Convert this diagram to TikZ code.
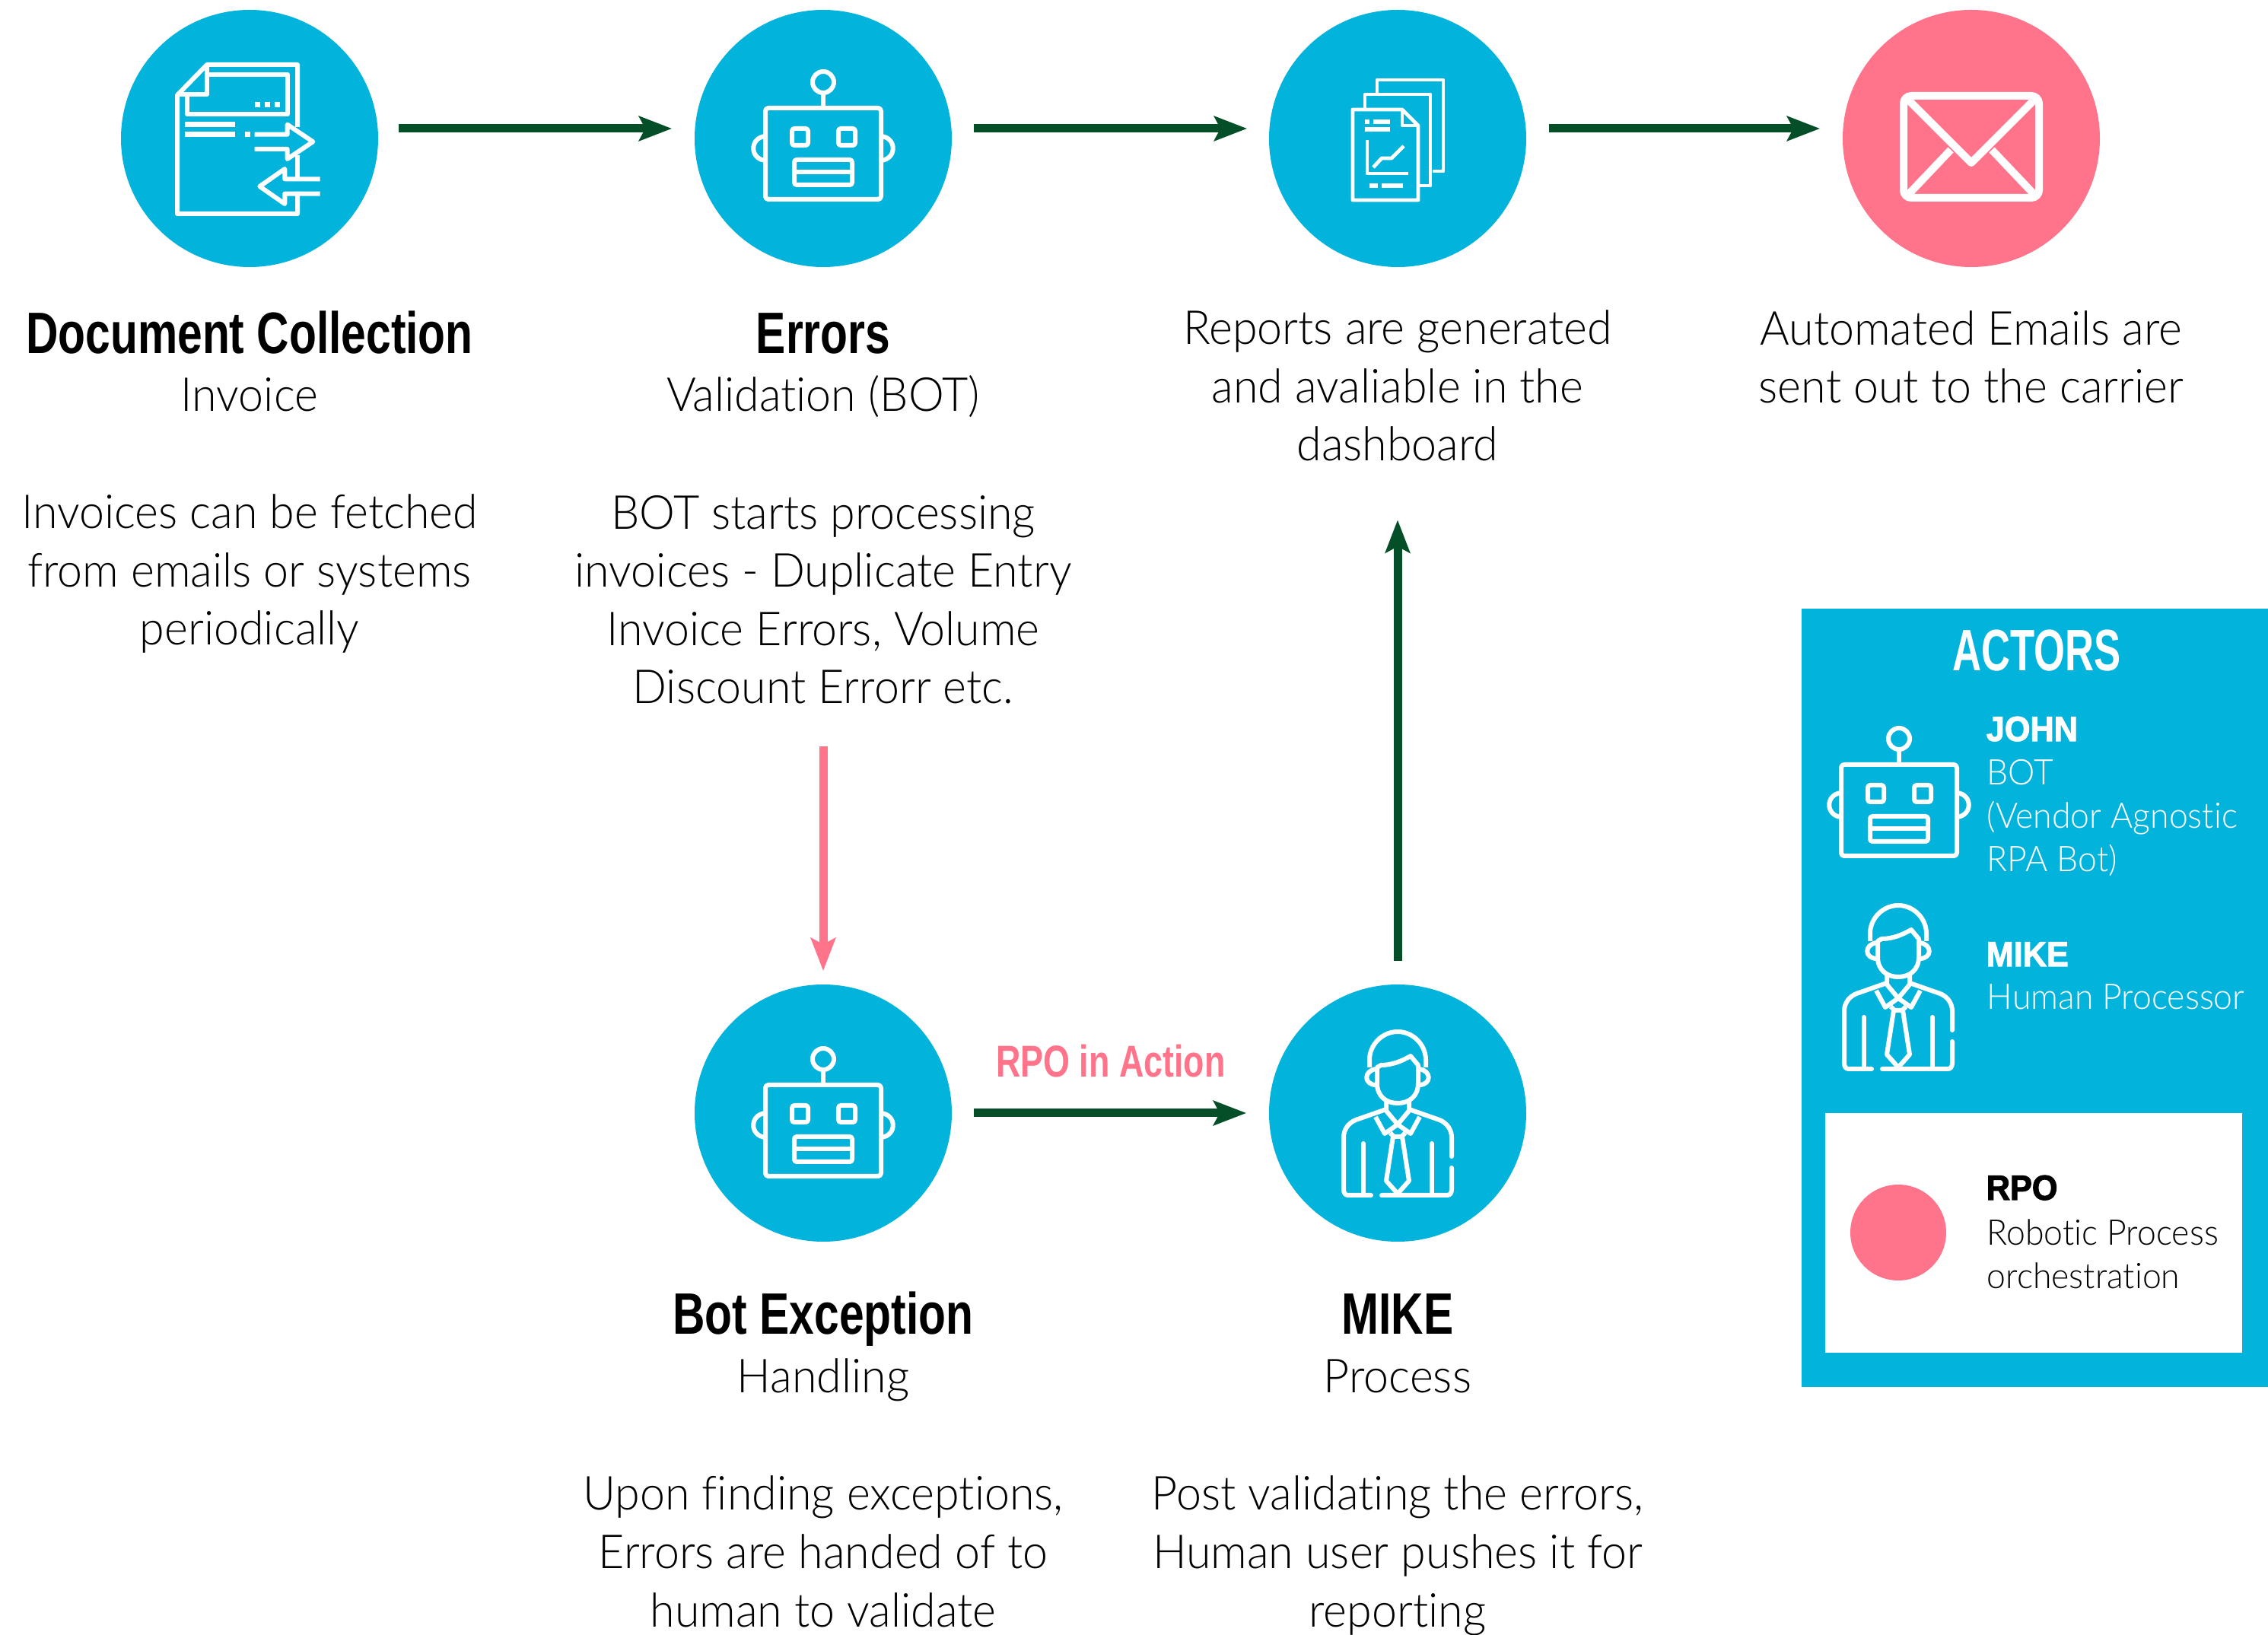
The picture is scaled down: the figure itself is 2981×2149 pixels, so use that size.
\documentclass[tikz,border=0pt]{standalone}
\usepackage{fontspec}
\usetikzlibrary{arrows.meta}
\setmainfont{Lato Light}[FakeStretch=0.96,Ligatures=NoCommon]
\newfontfamily\titlefont{Liberation Sans Bold}[FakeStretch=0.765]
\newfontfamily\actorsfont{Liberation Sans Bold}[FakeStretch=0.685]
\newfontfamily\namefont{Liberation Sans Bold}[FakeBold=2.2,FakeStretch=0.94]
\definecolor{actorblue}{HTML}{02B3DC}
\definecolor{rpopink}{HTML}{FF748B}
\definecolor{flowgreen}{HTML}{044F27}
\tikzset{
	stepcircle/.style={circle, fill=actorblue, minimum size=84.5pt, inner sep=0pt},
	titletext/.style={anchor=base, inner sep=0pt, font=\titlefont\fontsize{19.2pt}{23pt}\selectfont},
	bodytext/.style={anchor=base, inner sep=0pt, align=center, font=\fontsize{15.4pt}{19.15pt}\selectfont},
	paneltext/.style={anchor=base west, inner sep=0pt, align=left, text=white, font=\fontsize{11.6pt}{14.3pt}\selectfont},
	nametext/.style={anchor=base west, inner sep=0pt, text=white, font=\namefont\fontsize{11.5pt}{14pt}\selectfont},
	flow/.style={line width=2.75pt, flowgreen, -{Stealth[length=10.75pt, width=8pt, inset=2pt]}},
	iconline/.style={draw=white, line width=1.5pt, line join=round},
	roboticon/.pic={
		\draw[iconline] (0,-74) circle[radius=14];
		\draw[iconline] (0,-60) -- (0,-40);
		\draw[iconline, rounded corners=1pt] (-76,-40) rectangle (76,80);
		\draw[iconline, rounded corners=.8pt] (-41,-13) rectangle (-20,9);
		\draw[iconline, rounded corners=.8pt] (20,-13) rectangle (42,9);
		\draw[iconline, rounded corners=.8pt] (-38,28) rectangle (38,61);
		\draw[iconline] (-38,44) -- (38,44);
		\draw[iconline] (-76,-3) .. controls (-97,-1) and (-97,27) .. (-76,29);
		\draw[iconline] (76,-3) .. controls (97,-1) and (97,27) .. (76,29);
	},
	personicon/.pic={
		\draw[iconline] (-37,-60) -- (-37,-70) .. controls (-37,-90) and (-20,-107) .. (0,-107)
			.. controls (20,-107) and (37,-90) .. (37,-70) -- (37,-60);
		\draw[iconline] (17,-75) .. controls (5,-68) and (-8,-63) .. (-22,-63) -- (-27,-60) -- (-27,-39)
			.. controls (-27,-22) and (-15,-13) .. (0,-13) .. controls (15,-13) and (27,-22) .. (27,-39)
			-- (27,-63) -- cycle;
		\draw[iconline] (-28,-58) .. controls (-45,-56) and (-45,-37) .. (-28,-37);
		\draw[iconline] (28,-58) .. controls (45,-56) and (45,-37) .. (28,-37);
		\draw[iconline] (-15,-17) -- (-15,-3) -- (0,15) -- (-17,27) -- (-29,5);
		\draw[iconline] (15,-17) -- (15,-3) -- (0,15) -- (17,27) -- (29,5);
		\draw[iconline, line cap=round] (-15,-5) -- (-55,9) .. controls (-65,13) and (-71,22) .. (-71,32)
			-- (-71,100) .. controls (-71,105) and (-69,108) .. (-65,108) -- (-35,108);
		\draw[iconline, line cap=round] (15,-5) -- (55,9) .. controls (65,13) and (71,22) .. (71,32) -- (71,57);
		\draw[iconline, line cap=round] (71,72) -- (71,100) .. controls (71,105) and (69,108) .. (65,108) -- (-21,108);
		\draw[iconline, line cap=round] (-45,40) -- (-45,107);
		\draw[iconline, line cap=round] (45,40) -- (45,107);
		\draw[iconline] (-10,26) -- (-5,31) -- (5,31) -- (10,26);
		\draw[iconline] (-6,31) -- (-15,89) -- (0,106) -- (15,89) -- (6,31);
	},
	docicon/.pic={
		\draw[iconline] (63,-15) -- (63,-97) -- (-56,-97) -- (-95,-57) -- (-95,99) -- (63,99) -- (63,70);
		\draw[iconline] (63,22) -- (63,52);
		\draw[iconline] (-56,-97) -- (-56,-58) -- (-95,-58);
		\draw[iconline] (-56,-84) -- (50,-84) -- (50,-32) -- (-82,-32) -- (-82,-58);
		\foreach \dotx in {10,23,36}
			\fill[white] (\dotx-3.5,-47.5) rectangle (\dotx+3.5,-40.5);
		\fill[white] (-85,-22) rectangle (-19,-15);
		\fill[white] (-85,-9) rectangle (-19,-2);
		\fill[white] (-6.5,-9) rectangle (.5,-2);
		\draw[iconline, miter limit=10] (6.7,-5.3) -- (49.7,-5.3) -- (49.7,-18.3) -- (83.3,4.3) -- (49.7,27) -- (49.7,14) -- (6.7,14);
		\draw[iconline] (92.7,53.3) -- (46.3,53.3) -- (46.3,40) -- (13.3,63) -- (46.3,86) -- (46.3,72.7) -- (92.7,72.7);
	},
	reporticon/.pic={
		\draw[iconline, line width=1.2pt] (-27,-60) -- (-27,-77) -- (60,-77) -- (60,43) -- (46,43);
		\draw[iconline, line width=1.2pt] (-43,-38) -- (-43,-58) -- (43,-58) -- (43,62) -- (27,62);
		\draw[iconline, line width=1.2pt] (-59,-38) -- (6,-38) -- (27,-17) -- (27,81) -- (-59,81) -- cycle;
		\draw[iconline, line width=1.2pt] (6,-38) -- (6,-17) -- (27,-17);
		\fill[white] (-43,-25) rectangle (-37,-19);
		\fill[white] (-32.5,-25) rectangle (-10,-19);
		\fill[white] (-43,-15) rectangle (-10,-9);
		\draw[iconline, line width=1.2pt] (-40,2) -- (-40,46) -- (14,46);
		\draw[iconline, line width=1.2pt] (-32,38) -- (-21,26) -- (-8,26) -- (8,10);
		\fill[white] (-37,59) rectangle (-26,65);
		\fill[white] (-21,59) rectangle (7,65);
	},
	mailicon/.pic={
		\draw[iconline, line width=2.5pt, rounded corners=2.5pt] (-89,-56) rectangle (89,78);
		\draw[iconline, line width=2.5pt] (-84,-52) -- (0,32) -- (84,-52);
		\draw[iconline, line width=2.5pt] (-84,75) -- (-27,15);
		\draw[iconline, line width=2.5pt] (84,75) -- (27,15);
	},
}
\begin{document}
\begin{tikzpicture}[x=0.25pt, y=-0.25pt]
	\useasboundingbox (0,0) rectangle (2981,2149);
	% steps
	\node[stepcircle] (doc) at (328,182) {};
	\node[stepcircle] (errors) at (1082,182) {};
	\node[stepcircle] (reports) at (1837,182) {};
	\node[stepcircle, fill=rpopink] (mail) at (2591,182) {};
	\node[stepcircle] (botex) at (1082,1463) {};
	\node[stepcircle] (mike) at (1837,1463) {};
	\pic at (doc) {docicon};
	\pic at (errors) {roboticon};
	\pic at (reports) {reporticon};
	\pic at (mail) {mailicon};
	\pic at (1082,1466) {roboticon};
	\pic at (mike) {personicon};
	% texts
	\node[titletext] (doctitle) at (328,465) {Document Collection};
	\node[bodytext] (docsub) at (328,541) {Invoice};
	\node[bodytext] (docbody) at (328,848) {Invoices can be fetched\\from emails or systems\\periodically};
	\node[titletext] (errtitle) at (1082,465) {Errors};
	\node[bodytext] (errsub) at (1082,541) {Validation (BOT)};
	\node[bodytext] (errbody) at (1082,925) {BOT starts processing\\invoices - Duplicate Entry\\Invoice Errors, Volume\\Discount Errorr etc.};
	\node[bodytext] (repbody) at (1837,606) {Reports are generated\\and avaliable in the\\dashboard};
	\node[bodytext] (mailbody) at (2591,530) {Automated Emails are\\sent out to the carrier};
	\node[titletext] (bottitle) at (1082,1754) {Bot Exception};
	\node[bodytext] (botsub) at (1082,1830) {Handling};
	\node[bodytext] (botbody) at (1082,2138) {Upon finding exceptions,\\Errors are handed of to\\human to validate};
	\node[titletext] (miketitle) at (1837,1754) {MIKE};
	\node[bodytext] (mikesub) at (1837,1830) {Process};
	\node[bodytext] (mikebody) at (1837,2138) {Post validating the errors,\\Human user pushes it for\\reporting};
	\node[titletext, text=rpopink, font=\titlefont\fontsize{14.65pt}{18pt}\selectfont] (rpoaction) at (1460,1416) {RPO in Action};
	% connectors
	\draw[flow] ([shift={(26,-13)}]doc.east) -- ([shift={(-29,-13)}]errors.west);
	\draw[flow] ([shift={(28,-13)}]errors.east) -- ([shift={(-28,-13)}]reports.west);
	\draw[flow] ([shift={(29,-13)}]reports.east) -- ([shift={(-29,-13)}]mail.west);
	\draw[flow] ([shift={(28,0)}]botex.east) -- ([shift={(-29,0)}]mike.west);
	\draw[flow] ([shift={(0,-30)}]mike.north) -- ([shift={(0,76)}]repbody.south);
	\draw[flow, rpopink] ([shift={(0,55)}]errbody.south) -- ([shift={(0,-17)}]botex.north);
	% actors
	\fill[actorblue] (2368,800) rectangle (2981,1823);
	\fill[white] (2399,1463) rectangle (2947,1778);
	\node[titletext, text=white, font=\actorsfont\fontsize{19.2pt}{23pt}\selectfont] (actorstitle) at (2677,882) {ACTORS};
	\pic at (2496,1045) {roboticon};
	\pic at (2495,1297) {personicon};
	\node[nametext] (johnname) at (2610,974) {JOHN};
	\node[paneltext] (johntext) at (2611,1146) {BOT\\(Vendor Agnostic\\RPA Bot)};
	\node[nametext] (mikename) at (2610,1270) {MIKE};
	\node[paneltext] (miketext) at (2611,1327) {Human Processor};
	\node[circle, fill=rpopink, minimum size=31.5pt, inner sep=0pt] (rpodot) at (2495,1620) {};
	\node[nametext, text=black] (rponame) at (2610,1577) {RPO};
	\node[paneltext, text=black] (rpotext) at (2611,1694) {Robotic Process\\orchestration};
\end{tikzpicture}
\end{document}
